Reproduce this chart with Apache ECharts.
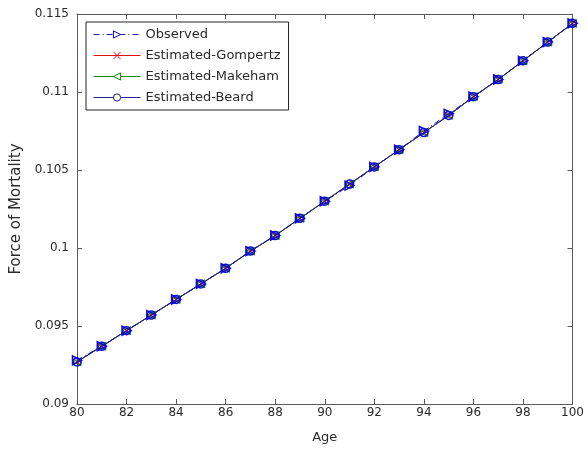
<!DOCTYPE html>
<html>
<head>
<meta charset="utf-8">
<script src="https://cdn.jsdelivr.net/npm/echarts@6/dist/echarts.min.js"></script>
<style>
html,body{margin:0;padding:0;background:#fff;}
#chart{width:587px;height:450px;}
</style>
</head>
<body>
<div id="chart"></div>
<script>
var ages = [80,81,82,83,84,85,86,87,88,89,90,91,92,93,94,95,96,97,98,99,100];
var observed  = [0.0928,0.0937,0.0947,0.0957,0.0967,0.0977,0.0987,0.0998,0.1008,0.1019,0.1030,0.1040,0.1052,0.1063,0.1075,0.1086,0.1097,0.1108,0.1120,0.1132,0.1144];
var gompertz  = [0.0927,0.0937,0.0947,0.0957,0.0967,0.0977,0.0987,0.0998,0.1008,0.1019,0.1030,0.1041,0.1052,0.1063,0.1074,0.1085,0.1097,0.1108,0.1120,0.1132,0.1144];
var makeham   = [0.0927,0.0937,0.0947,0.0957,0.0967,0.0977,0.0987,0.0998,0.1008,0.1019,0.1030,0.1041,0.1052,0.1063,0.1074,0.1085,0.1097,0.1108,0.1120,0.1132,0.1144];
var beard     = [0.0927,0.0937,0.0947,0.0957,0.0967,0.0977,0.0987,0.0998,0.1008,0.1019,0.1030,0.1041,0.1052,0.1063,0.1074,0.1085,0.1097,0.1108,0.1120,0.1132,0.1144];
var seriesNames = ['Observed','Estimated-Gompertz','Estimated-Makeham','Estimated-Beard'];
var xTicks = [80,82,84,86,88,90,92,94,96,98,100];
var yTicks = ['0.09','0.095','0.1','0.105','0.11','0.115'];

function pairs(vals){ return ages.map(function(a,i){ return [a, vals[i]]; }); }

var FONT = 'DejaVu Sans';
var AX = '#5a5a5a';
var TXT = '#2a2a2a';
var BLUE = '#0a0ad0';
var NAVY = '#202090';
var RED = '#e01010';
var GREEN = '#108a10';
var TRI_R = 'path://M0,0L10,5L0,10Z';
var TRI_L = 'path://M10,0L0,5L10,10Z';
var XMARK = 'path://M0,0L10,10M10,0L0,10';

var chart = echarts.init(document.getElementById('chart'), null, {renderer:'canvas'});
var baseAxisX = {
  type:'value', min:80, max:100, interval:2,
  axisLine:{show:true, onZero:false, lineStyle:{color:AX, width:1}},
  axisTick:{show:true, inside:true, length:5, lineStyle:{color:AX}},
  splitLine:{show:false}
};
var baseAxisY = {
  type:'value', min:0.09, max:0.115, interval:0.005,
  axisLine:{show:true, onZero:false, lineStyle:{color:AX, width:1}},
  axisTick:{show:true, inside:true, length:5, lineStyle:{color:AX}},
  splitLine:{show:false}
};
function fmtY(v){ return String(+v.toFixed(3)); }

chart.setOption({
  backgroundColor:'#fff',
  animation:false,
  grid:{left:77, right:13, top:14, bottom:46, containLabel:false},
  xAxis:[
    Object.assign({}, baseAxisX, {
      position:'bottom',
      name:'Age', nameLocation:'middle', nameGap:27,
      nameTextStyle:{fontFamily:FONT, fontSize:13, color:TXT},
      axisLabel:{show:true, margin:3, fontFamily:FONT, fontSize:12, color:TXT,
        formatter:function(v){ return xTicks.indexOf(v) >= 0 ? String(v) : ''; }}
    }),
    Object.assign({}, baseAxisX, {position:'top', axisLabel:{show:false}})
  ],
  yAxis:[
    Object.assign({}, baseAxisY, {
      position:'left',
      name:'Force of Mortality', nameLocation:'middle', nameGap:50,
      nameTextStyle:{fontFamily:FONT, fontSize:15, color:TXT},
      axisLabel:{show:true, margin:8, fontFamily:FONT, fontSize:12, color:TXT,
        formatter:function(v){ var s = fmtY(v); return yTicks.indexOf(s) >= 0 ? s : ''; }}
    }),
    Object.assign({}, baseAxisY, {position:'right', axisLabel:{show:false}})
  ],
  legend:{
    show:true, orient:'vertical', left:86, top:22,
    padding:[6,8,6,7],
    itemGap:8, itemWidth:47, itemHeight:9,
    backgroundColor:'#fff', borderColor:'#222', borderWidth:1,
    textStyle:{fontFamily:FONT, fontSize:13, color:TXT},
    lineStyle:{width:1},
    data:[
      {name:seriesNames[0], itemStyle:{color:'#fff', borderColor:BLUE, borderWidth:1}, lineStyle:{color:NAVY, width:1, type:[6,3,1,3]}},
      {name:seriesNames[1], itemStyle:{color:'#fff', borderColor:RED, borderWidth:1}, lineStyle:{color:RED, width:1}},
      {name:seriesNames[2], itemStyle:{color:'#fff', borderColor:GREEN, borderWidth:1}, lineStyle:{color:GREEN, width:1}},
      {name:seriesNames[3], itemStyle:{color:'#fff', borderColor:NAVY, borderWidth:1}, lineStyle:{color:NAVY, width:1}}
    ]
  },
  series:[
    {
      name:seriesNames[0], type:'line', data:pairs(observed), z:4,
      symbol:TRI_R, symbolSize:9, showAllSymbol:true,
      lineStyle:{color:BLUE, width:1, type:[6,3,1,3]},
      itemStyle:{color:'rgba(0,0,0,0)', borderColor:BLUE, borderWidth:1.5}
    },
    {
      name:seriesNames[1], type:'line', data:pairs(gompertz), z:2,
      symbol:XMARK, symbolSize:6, showAllSymbol:true,
      lineStyle:{color:RED, width:1},
      itemStyle:{color:'rgba(0,0,0,0)', borderColor:RED, borderWidth:1.2}
    },
    {
      name:seriesNames[2], type:'line', data:pairs(makeham), z:2,
      symbol:TRI_L, symbolSize:8, showAllSymbol:true,
      lineStyle:{color:GREEN, width:1},
      itemStyle:{color:'rgba(0,0,0,0)', borderColor:GREEN, borderWidth:1}
    },
    {
      name:seriesNames[3], type:'line', data:pairs(beard), z:3,
      symbol:'circle', symbolSize:8, showAllSymbol:true,
      lineStyle:{color:NAVY, width:1},
      itemStyle:{color:'rgba(0,0,0,0)', borderColor:BLUE, borderWidth:1.5}
    }
  ]
});
</script>
</body>
</html>
